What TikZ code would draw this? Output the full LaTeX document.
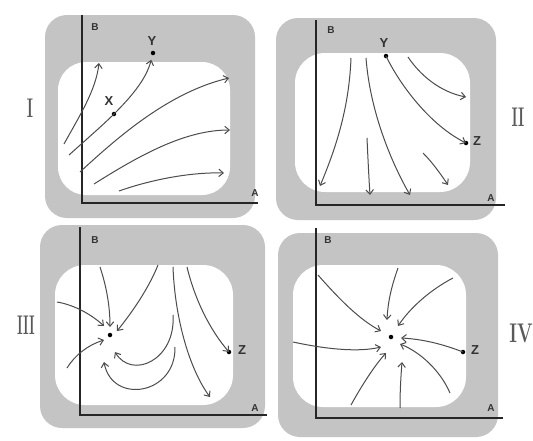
\documentclass[tikz,border=0pt]{standalone}
\usepackage{fontspec}
\setsansfont{Liberation Sans}
\usetikzlibrary{arrows.meta}
\tikzset{
  blob/.style={fill=black!23},
  hole/.style={fill=white},
  axis/.style={line width=1.4pt, black!85},
  flow/.style={line width=1pt, black!70, -{Straight Barb[length=4.5pt,width=7.5pt]}},
  dot/.style={circle, fill=black, inner sep=0pt, minimum size=4.5pt},
  lab/.style={font=\sffamily\bfseries\fontsize{13}{13}\selectfont, text=black!80, inner sep=0pt},
  axlab/.style={font=\sffamily\bfseries\fontsize{10}{10}\selectfont, text=black!80, inner sep=0pt},
  roman/.style={font=\bfseries\fontsize{27}{27}\selectfont, text=black!65, inner sep=0pt},
}
\begin{document}
\begin{tikzpicture}[x=1pt,y=-1pt]
\useasboundingbox (0,0) rectangle (533,440);
\fill[white] (0,0) rectangle (533,440);
% ---------- blobs ----------
\fill[blob, rounded corners=22pt] (45,15) rectangle (255,218);
\fill[hole, rounded corners=28pt] (58,62) rectangle (230,195);
\fill[blob, rounded corners=22pt] (276,18) rectangle (496,220);
\fill[hole, rounded corners=30pt] (295,53) rectangle (470,192);
\fill[blob, rounded corners=22pt] (40,225) rectangle (265,428);
\fill[hole, rounded corners=30pt] (55,265) rectangle (233,405);
\fill[blob, rounded corners=22pt] (278,233) rectangle (498,437);
\fill[hole, rounded corners=30pt] (293,265) rectangle (466,407);
% ---------- axes ----------
\coordinate (O1) at (82,203); \coordinate (B1) at (82,15); \coordinate (A1) at (258,203);
\coordinate (O2) at (316,205); \coordinate (B2) at (316,20); \coordinate (A2) at (505,205);
\coordinate (O3) at (80,415); \coordinate (B3) at (80,227); \coordinate (A3) at (267,415);
\coordinate (O4) at (316,418); \coordinate (B4) at (316,228); \coordinate (A4) at (503,418);
\draw[axis] (B1) -- (O1) -- (A1);
\draw[axis] (B2) -- (O2) -- (A2);
\draw[axis] (B3) -- (O3) -- (A3);
\draw[axis] (B4) -- (O4) -- (A4);
\node[axlab] (lB1) at (95,27) {B};  \node[axlab] (lA1) at (255,193) {A};
\node[axlab] (lB2) at (331,30) {B}; \node[axlab] (lA2) at (491,198) {A};
\node[axlab] (lB3) at (95,240) {B}; \node[axlab] (lA3) at (255,408) {A};
\node[axlab] (lB4) at (328,240) {B}; \node[axlab] (lA4) at (491,408) {A};
% ---------- roman numerals ----------
\node[roman] (r1) at (30,108) {\scalebox{0.55}[1]{I}};
\node[roman] (r2) at (518,117) {\scalebox{0.55}[1]{II}};
\node[roman] (r3) at (26,325) {\scalebox{0.5}[1]{III}};
\node[roman] (r4) at (521,333) {\scalebox{0.68}[1]{IV}};
% ---------- panel I ----------
\node[dot] (X1) at (114,114) {};
\node[dot] (Y1) at (153,53) {};
\node[lab] (lX1) at (109,101) {X};
\node[lab] (lY1) at (152,41) {Y};
\draw[flow] (64,144) .. controls (80,115) and (96,90) .. (99,63);
\draw[line width=1pt, black!70] (69,155) .. controls (88,138) and (104,124) .. (X1.center);
\draw[flow, shorten >=7pt] (X1.center) .. controls (130,98) and (146,80) .. (Y1.center);
\draw[flow] (80,172) .. controls (120,135) and (170,92) .. (229,78);
\draw[flow] (94,184) .. controls (140,155) and (185,130) .. (230,130);
\draw[flow] (119,191) .. controls (150,180) and (190,172) .. (224,173);
% ---------- panel II ----------
\node[dot] (Y2) at (386,56) {};
\node[dot] (Z2) at (466,143) {};
\node[lab] (lY2) at (384,43) {Y};
\node[lab] (lZ2) at (477,141) {Z};
\draw[flow] (351,58) .. controls (349,110) and (335,150) .. (320,186);
\draw[flow] (366,58) .. controls (370,110) and (390,160) .. (410,195);
\draw[flow] (Y2.center) .. controls (400,85) and (430,125) .. (Z2.center);
\draw[flow] (408,57) .. controls (420,75) and (440,92) .. (466,97);
\draw[flow] (367,138) .. controls (368,160) and (369,180) .. (370,195);
\draw[flow] (423,153) .. controls (432,162) and (440,173) .. (448,185);
% ---------- panel III ----------
\node[dot] (Y3) at (110,335) {};
\node[dot] (Z3) at (229,352) {};
\node[lab] (lZ3) at (242,350) {Z};
\draw[flow] (100,267) .. controls (106,285) and (110,305) .. (110,327);
\draw[flow] (158,265) .. controls (148,290) and (130,315) .. (117,331);
\draw[flow] (57,302) .. controls (75,305) and (92,315) .. (104,326);
\draw[flow] (67,368) .. controls (75,355) and (88,345) .. (104,340);
\draw[flow] (173,267) .. controls (175,320) and (190,370) .. (210,397);
\draw[flow] (187,267) .. controls (195,300) and (210,330) .. (Z3.center);
\draw[flow] (173,315) .. controls (176,360) and (132,380) .. (115,352);
\draw[flow] (175,347) .. controls (176,395) and (112,405) .. (104,362);
% ---------- panel IV ----------
\node[dot] (C4) at (391,337) {};
\node[dot] (Z4) at (463,352) {};
\node[lab] (lZ4) at (475,350) {Z};
\draw[flow] (318,275) .. controls (340,300) and (360,320) .. (381,331);
\draw[flow] (398,268) .. controls (392,285) and (388,300) .. (387,320);
\draw[flow] (453,278) .. controls (430,290) and (410,308) .. (398,326);
\draw[flow] (293,342) .. controls (330,350) and (360,352) .. (381,347);
\draw[flow] (Z4.center) .. controls (440,343) and (420,339) .. (401,338);
\draw[flow] (450,393) .. controls (440,370) and (420,352) .. (400,344);
\draw[flow] (351,405) .. controls (362,385) and (375,365) .. (386,353);
\draw[flow] (400,408) .. controls (400,390) and (401,375) .. (402,362);
\end{tikzpicture}
\end{document}
